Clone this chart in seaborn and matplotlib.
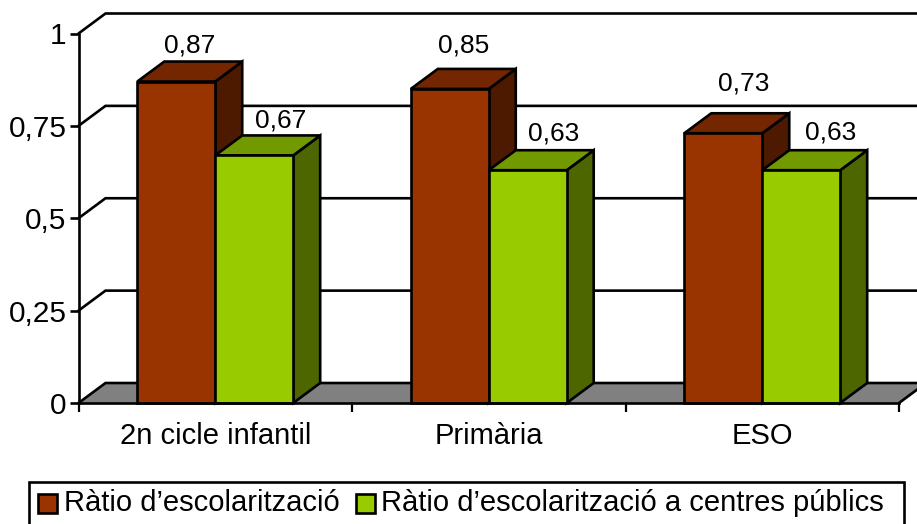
import matplotlib
matplotlib.use('Agg')
import matplotlib.pyplot as plt
import pandas as pd
import seaborn as sns
from matplotlib.patches import Polygon, Rectangle

# Values
levels = ['2n cicle infantil', 'Primària', 'ESO']
ratio_total = [0.87, 0.85, 0.73]
ratio_public = [0.67, 0.63, 0.63]
y_ticks = [0, 0.25, 0.5, 0.75, 1]
y_labels = ['0', '0,25', '0,5', '0,75', '1']
series_names = ['Ràtio d’escolarització', 'Ràtio d’escolarització a centres públics']

W, H = 917, 524
LEFT, RIGHT, TOP, BOTTOM = 78.5, 899, 33.5, 403
DX, DY = 27, 20  # depth of the fake 3D, in pixels

front = ['#993300', '#99CC00']
top_face = ['#732600', '#739900']
side_face = ['#4D1A00', '#4D6600']
FLOOR = '#808080'
LW = 1.9

df = pd.DataFrame({
    'level': levels * 2,
    'value': ratio_total + ratio_public,
    'series': [series_names[0]] * 3 + [series_names[1]] * 3,
})

sns.set_theme(style='white')
plt.rcParams['font.family'] = ['Liberation Sans', 'DejaVu Sans']

fig = plt.figure(figsize=(W / 100, H / 100), dpi=100)
ax = fig.add_axes([LEFT / W, 1 - BOTTOM / H, (RIGHT - LEFT) / W, (BOTTOM - TOP) / H])

sns.barplot(data=df, x='level', y='value', hue='series', palette=front, width=0.57,
            gap=0, saturation=1, legend=False, edgecolor='black', linewidth=LW, ax=ax, zorder=5)
ax.set_xlim(-0.5, 2.5)
ax.set_ylim(0, 1)
ax.set_xlabel('')
ax.set_ylabel('')
for s in ['top', 'right']:
    ax.spines[s].set_visible(False)
for s in ['left', 'bottom']:
    ax.spines[s].set_linewidth(LW)
    ax.spines[s].set_color('black')
    ax.spines[s].set_zorder(8)

# depth expressed in data units
dx = DX / (RIGHT - LEFT) * 3
dy = DY / (BOTTOM - TOP)

# back wall gridlines and the diagonals that join them to the axis
x0, x1 = -0.5, 2.5
for t in y_ticks:
    ax.plot([x0, x0 + dx, x1 + dx], [t, t + dy, t + dy], color='black', lw=LW,
            zorder=1, clip_on=False, solid_joinstyle='miter')

# grey floor
ax.add_patch(Polygon([(x0, 0), (x1, 0), (x1 + dx, dy), (x0 + dx, dy)], closed=True,
                     facecolor=FLOOR, edgecolor='none', zorder=0.5, clip_on=False))
ax.plot([x1, x1 + dx], [0, dy], color='black', lw=LW, zorder=1, clip_on=False)

# side and top faces, built from the bars seaborn drew
n = len(levels)
bars = list(ax.patches[:2 * n])
for i, bar in enumerate(bars):
    s = i // n
    xa, xb = bar.get_x(), bar.get_x() + bar.get_width()
    h = bar.get_height()
    z = 2 if s == 0 else 3
    ax.add_patch(Polygon([(xb, 0), (xb + dx, dy), (xb + dx, h + dy), (xb, h)], closed=True,
                         facecolor=side_face[s], edgecolor='black', lw=LW, zorder=z, clip_on=False))
    ax.add_patch(Polygon([(xa, h), (xa + dx, h + dy), (xb + dx, h + dy), (xb, h)], closed=True,
                         facecolor=top_face[s], edgecolor='black', lw=LW, zorder=z, clip_on=False,
                         joinstyle='miter'))
    bar.set_zorder(z + 0.5)
    bar.set_clip_on(False)

# value labels, shifted by hand from the bar's top centre as in the original
label_shift = [(13, 36), (14, 43.5), (20, 50), (26, 35), (26, 37), (29, 38)]
for bar, shift in zip(bars, label_shift):
    v = bar.get_height()
    ax.annotate(f'{v:.2f}'.replace('.', ','), (bar.get_x() + bar.get_width() / 2, v),
                xytext=shift, textcoords='offset pixels', ha='center', va='center',
                fontsize=19, color='black', zorder=10, annotation_clip=False)

ax.set_yticks(y_ticks)
ax.set_yticklabels(y_labels, fontsize=21.5)
ax.set_xticks([-0.5, 0.5, 1.5, 2.5], minor=False)
ax.set_xticklabels([])
ax.tick_params(axis='y', left=True, length=6.5, width=LW, pad=2, color='black', labelcolor='black')
ax.tick_params(axis='x', bottom=True, length=6.5, width=1.6, color='black')
for i, name in enumerate(levels):
    ax.text(i, -0.088, name, ha='center', va='center', fontsize=21, color='black')

# legend box drawn in figure pixels, it runs off the bottom of the image
def px(x, y):
    return x / W, 1 - y / H

fig.add_artist(Rectangle(px(28.5, 532), 875 / W, 50.5 / H, transform=fig.transFigure,
                         facecolor='white', edgecolor='black', lw=LW))
for xs, col, name, xt in [(38, front[0], series_names[0], 64), (356, front[1], series_names[1], 381)]:
    fig.add_artist(Rectangle(px(xs, 512.5), 19 / W, 19 / H, transform=fig.transFigure,
                             facecolor=col, edgecolor='black', lw=LW))
    tx, ty = px(xt, 503)
    fig.text(tx, ty, name, ha='left', va='center', fontsize=21, color='black')

fig.savefig('out.png', dpi=100, facecolor='white')
